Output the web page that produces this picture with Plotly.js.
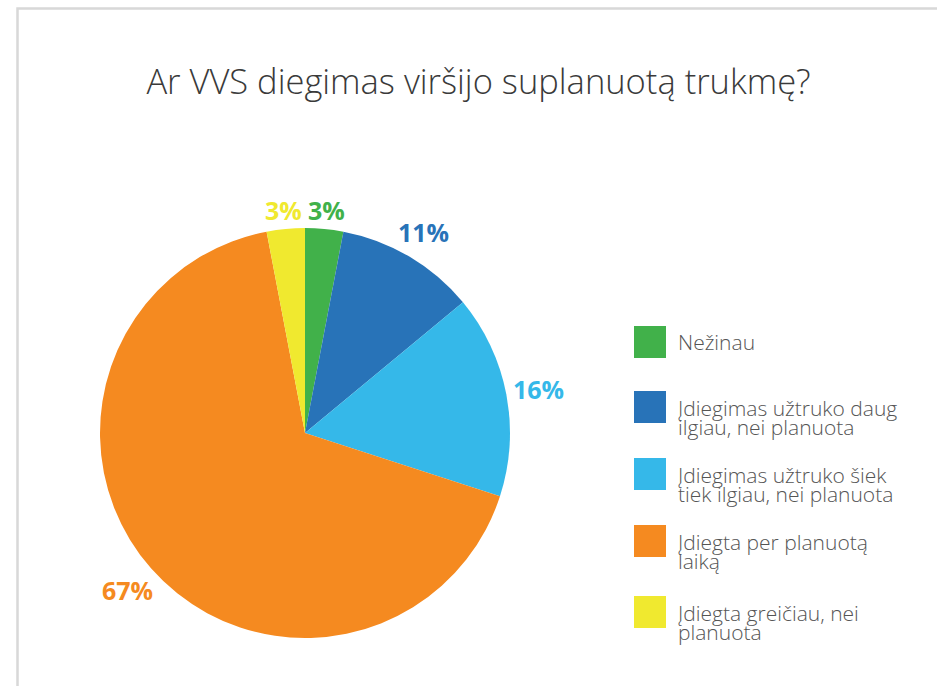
<!DOCTYPE html>
<html>
<head>
<meta charset="utf-8">
<script src="https://cdn.plot.ly/plotly-3.0.1.min.js"></script>
<style>html,body{margin:0;padding:0;background:#fff;}#chart{width:937px;height:686px;}</style>
</head>
<body>
<div id="chart"></div>
<script>
const labels = ["Nežinau", "Įdiegimas užtruko daug ilgiau, nei planuota", "Įdiegimas užtruko šiek tiek ilgiau, nei planuota", "Įdiegta per planuotą laiką", "Įdiegta greičiau, nei planuota"];
const legendLines = [["Nežinau"], ["Įdiegimas užtruko daug", "ilgiau, nei planuota"], ["Įdiegimas užtruko šiek", "tiek ilgiau, nei planuota"], ["Įdiegta per planuotą", "laiką"], ["Įdiegta greičiau, nei", "planuota"]];
const values = [3, 11, 16, 67, 3];
const colors = ["#41b14a", "#2873b8", "#35b8e9", "#f58a20", "#f0e92f"];
const titleText = "Ar VVS diegimas viršijo suplanuotą trukmę?";

const W = 937, H = 686;
const px = x => x / W;
const py = y => 1 - y / H;

// pie geometry (pixels)
const CX = 305, CY = 433, R = 205;

const shapes = [{
  type: "rect", xref: "paper", yref: "paper",
  x0: px(17.5), x1: px(960), y0: py(720), y1: py(8.5),
  line: {color: "#d8d8d8", width: 2.5}, fillcolor: "rgba(0,0,0,0)", layer: "below"
}];
const annotations = [];

// percentage labels outside each slice, at the slice's mid-angle
const total = values.reduce((a, b) => a + b, 0);
const labFont = 25;
let cum = 0;
for (let i = 0; i < values.length; i++) {
  const mid = (cum + values[i] / 2) / total * 2 * Math.PI;
  cum += values[i];
  const txt = values[i] + "%";
  const halfW = txt.length * labFont * 0.33;
  const halfH = labFont * 0.45;
  const s = Math.sin(mid), c = Math.cos(mid);
  const rr = R + 6 + halfW * Math.abs(s) + halfH * Math.abs(c);
  annotations.push({
    xref: "paper", yref: "paper",
    x: px(CX + rr * s), y: py(CY - rr * c),
    xanchor: "center", yanchor: "middle",
    text: txt, showarrow: false,
    font: {family: "Open Sans", size: labFont, color: colors[i], weight: 700}
  });
}

// legend
const sqTop = [326, 391, 458, 525, 596];
for (let i = 0; i < labels.length; i++) {
  shapes.push({
    type: "rect", xref: "paper", yref: "paper",
    x0: px(634), x1: px(666), y0: py(sqTop[i] + 32), y1: py(sqTop[i]),
    line: {width: 0}, fillcolor: colors[i]
  });
  const lines = legendLines[i];
  const single = lines.length === 1;
  lines.forEach((ln, j) => {
    annotations.push({
      xref: "paper", yref: "paper", x: px(676), xanchor: "left",
      y: py(single ? sqTop[i] + 16 : sqTop[i] + 17 + j * 18.5), yanchor: "middle",
      text: ln, showarrow: false,
      font: {family: "Open Sans", size: 21, color: "#555555", weight: 300}
    });
  });
}

const trace = {
  type: "pie",
  labels: labels,
  values: values,
  sort: false,
  direction: "clockwise",
  rotation: 0,
  marker: {colors: colors, line: {width: 0}},
  textinfo: "none",
  domain: {x: [px(CX - R), px(CX + R)], y: [py(CY + R), py(CY - R)]},
  automargin: false,
  showlegend: false,
  hoverinfo: "label+percent"
};

const layout = {
  width: W, height: H,
  margin: {l: 0, r: 0, t: 0, b: 0},
  paper_bgcolor: "#ffffff",
  plot_bgcolor: "#ffffff",
  showlegend: false,
  title: {
    text: titleText,
    font: {family: "Open Sans", size: 34.5, color: "#3a3a3a", weight: 300},
    x: px(478.5), xanchor: "center", xref: "paper",
    y: 1 - 82 / H, yanchor: "middle", yref: "container"
  },
  shapes: shapes,
  annotations: annotations
};

Plotly.newPlot("chart", [trace], layout, {displayModeBar: false, staticPlot: true});
</script>
</body>
</html>
